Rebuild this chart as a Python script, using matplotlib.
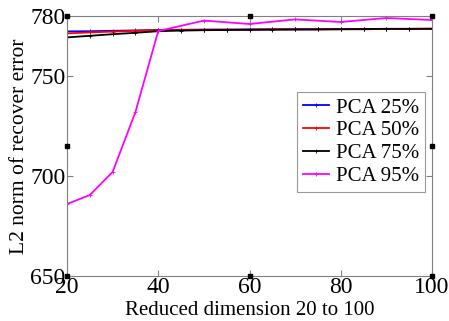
import matplotlib
matplotlib.use('Agg')
import matplotlib.pyplot as plt

# data
dims = [20, 25, 30, 35, 40, 45, 50, 55, 60, 65, 70, 75, 80, 85, 90, 95, 100]
pca25 = [772.3, 772.4, 772.6, 772.8, 773.0, 773.1, 773.2, 773.2, 773.3, 773.3, 773.3, 773.4, 773.4, 773.4, 773.5, 773.5, 773.5]
pca50 = [771.3, 771.8, 772.2, 772.6, 772.9, 773.0, 773.1, 773.2, 773.2, 773.3, 773.3, 773.3, 773.4, 773.4, 773.5, 773.5, 773.5]
pca75 = [769.3, 770.1, 770.9, 771.6, 772.4, 772.7, 772.9, 773.0, 773.1, 773.2, 773.3, 773.3, 773.4, 773.5, 773.6, 773.6, 773.7]
dims95 = [20, 25, 30, 35, 40, 50, 60, 70, 80, 90, 100]
pca95 = [686.0, 690.5, 702.0, 732.0, 772.5, 777.7, 776.0, 778.3, 777.0, 779.0, 778.0]

yticks = [650, 700, 750, 780]
xticks = [20, 40, 60, 80, 100]

plt.rcParams['font.family'] = ['Liberation Serif', 'DejaVu Serif']
fig = plt.figure(figsize=(4.49, 3.21), dpi=100)
ax = fig.add_axes([67/449, 1 - 276/321, 365/449, 260/321])

ax.plot(dims, pca25, color='#0000ff', lw=1.3, marker='+', ms=3, mew=0.6, label='PCA 25%')
ax.plot(dims, pca50, color='#ff0000', lw=1.3, marker='+', ms=3, mew=0.6, label='PCA 50%')
ax.plot(dims, pca75, color='#000000', lw=1.3, marker='+', ms=3, mew=0.6, label='PCA 75%')
ax.plot(dims95, pca95, color='#ff00ff', lw=1.3, marker='+', ms=3, mew=0.6, label='PCA 95%')

ax.set_xlim(20, 100)
ax.set_ylim(650, 780)
ax.set_xticks(xticks)
ax.set_yticks(yticks)
ax.tick_params(direction='in', top=True, right=True, labelsize=17, length=4, color='#808080', pad=1)
for s in ax.spines.values():
    s.set_color('#808080')
    s.set_linewidth(0.8)

ax.set_xlabel('Reduced dimension 20 to 100', fontsize=15, labelpad=2)
ax.set_ylabel('L2 norm of recover error', fontsize=15.5, labelpad=1)

# selection handles on the box
hx = [0, 0.5, 1, 0, 1, 0, 0.5, 1]
hy = [1, 1, 1, 0.5, 0.5, 0, 0, 0]
ax.plot(hx, hy, 's', color='black', ms=3, transform=ax.transAxes, clip_on=False, zorder=5)

leg = ax.legend(loc='upper right', bbox_to_anchor=(0.981, 0.708), fontsize=15, frameon=True,
                fancybox=False, edgecolor='#808080', handlelength=1.25, handletextpad=0.3,
                labelspacing=0.15, borderpad=0.3, borderaxespad=0)
leg.get_frame().set_linewidth(0.8)

fig.savefig('out.png', dpi=100)
